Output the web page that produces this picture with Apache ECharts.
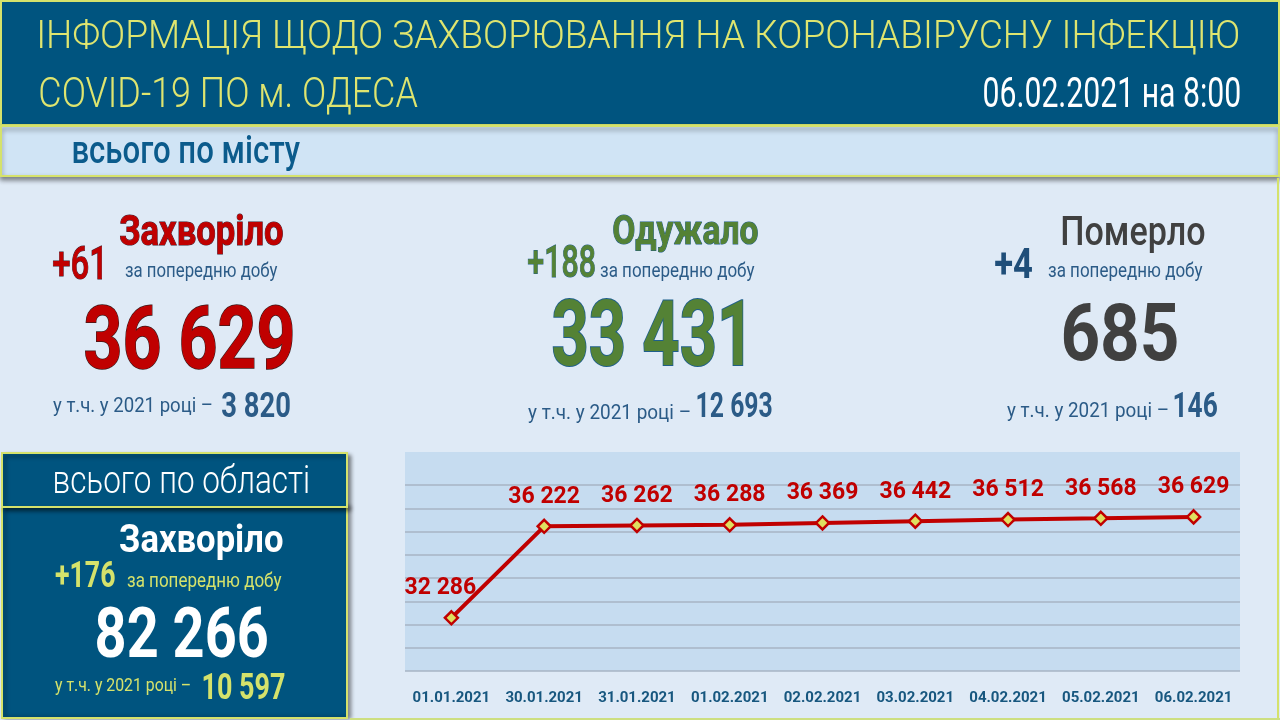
<!DOCTYPE html>
<html><head><meta charset="utf-8">
<script src="https://cdn.jsdelivr.net/npm/echarts/dist/echarts.min.js"></script>
<style>html,body{margin:0;padding:0;background:#dfeaf6}#c{width:1280px;height:720px}</style>
</head><body><div id="c"></div>
<script>
// ---------- data ----------
const categories = ['01.01.2021','30.01.2021','31.01.2021','01.02.2021','02.02.2021','03.02.2021','04.02.2021','05.02.2021','06.02.2021'];
const cases = [32286, 36222, 36262, 36288, 36369, 36442, 36512, 36568, 36629];
const yTicks = [30000, 38000, 1000]; // min, max, interval

const titleLines = ['ІНФОРМАЦІЯ ЩОДО ЗАХВОРЮВАННЯ НА КОРОНАВІРУСНУ ІНФЕКЦІЮ', 'COVID-19 ПО м. ОДЕСА'];
const reportDate = '06.02.2021 на 8:00';
const cityHeading = 'всього по місту';
const regionHeading = 'всього по області';
const statNames = ['Захворіло', 'Одужало', 'Померло'];
const statDaily = ['+61', '+188', '+4'];
const statTotals = ['36 629', '33 431', '685'];
const stat2021 = ['3 820', '12 693', '146'];
const regionName = 'Захворіло';
const regionDaily = '+176';
const regionTotal = '82 266';
const region2021 = '10 597';
const perDay = 'за попередню добу';
const inYear = 'у т.ч. у 2021 році –';

// ---------- helpers ----------
const NARROW = 'Roboto, "DejaVu Sans Condensed", sans-serif';
const THIN = 'Roboto, Lato, sans-serif';
const mctx = document.createElement('canvas').getContext('2d');
function T(str, o) {
  const size = o.size, weight = o.weight || 'normal', fam = o.family || NARROW;
  mctx.font = weight + ' ' + size + 'px ' + fam;
  mctx.textAlign = 'left'; mctx.textBaseline = 'middle';
  const m = mctx.measureText(str);
  const inkW = m.actualBoundingBoxRight + m.actualBoundingBoxLeft;
  const sx = o.right != null ? (o.right - o.left) / inkW : 1;
  let y;
  if (o.base != null) { const h = mctx.measureText('H'); y = o.base - h.actualBoundingBoxDescent; }
  else y = o.top + m.actualBoundingBoxAscent;
  return { type: 'text', x: o.left + m.actualBoundingBoxLeft * sx, y: y, scaleX: sx, z: 50,
    style: { text: str, fontSize: size, fontWeight: weight, fontFamily: fam, fill: o.color,
      stroke: o.stroke || null, lineWidth: o.lw || 0, textAlign: 'left', verticalAlign: 'middle', textVerticalAlign: 'middle',
      shadowBlur: o.blur || 0, shadowColor: o.glow || 'rgba(0,0,0,0)' } };
}
function R(x, y, w, h, fill, extra) {
  return Object.assign({ type: 'rect', shape: { x: x, y: y, width: w, height: h }, z: 5,
    style: Object.assign({ fill: fill }, extra || {}) });
}
function L(x1, y1, x2, y2, color, w) {
  return { type: 'line', z: 30, shape: { x1: x1, y1: y1, x2: x2, y2: y2 }, style: { stroke: color, lineWidth: w } };
}
const fmt = v => String(v).replace(/\B(?=(\d{3})+(?!\d))/g, ' ');

const YG = '#d5e26b', DB = '#00547f', TXT = '#2b5b87', RED = '#c00000', GRN = '#548235', GRY = '#404040';

const g = [];
// page background & header
const bg = R(0, 0, 1280, 720, '#dfeaf6'); bg.z = -20; g.push(bg);
g.push(R(1, 1, 1278, 124, DB, { stroke: YG, lineWidth: 2 }));
g.push(R(1, 126, 1278, 50, '#d0e4f5', { stroke: YG, lineWidth: 2, shadowBlur: 5, shadowOffsetY: 3, shadowColor: 'rgba(0,0,0,0.45)' }));
g.push(T(titleLines[0], { left: 40, right: 1239, base: 48, size: 39, weight: 300, family: THIN, color: '#dfe56f' }));
g.push(T(titleLines[1], { left: 40, right: 418, base: 107, size: 43, weight: 300, family: THIN, color: '#dfe56f' }));
g.push(T(reportDate, { left: 984, right: 1240, base: 107, size: 42, color: '#ffffff' }));
g.push(T(cityHeading, { left: 73, right: 300, base: 163, size: 39, weight: 500, family: THIN, color: '#0b5b8c' }));

// right / bottom frame
g.push(L(1278, 178, 1278, 720, YG, 2));
g.push(L(350, 719, 1280, 719, '#cddf80', 2));

// ----- stat panel 1 -----
g.push(T(statNames[0], { left: 120, right: 283, base: 245, size: 42, weight: 'bold', color: RED, stroke: '#3b2030', lw: 1 }));
g.push(T(statDaily[0], { left: 53, right: 102, base: 279, size: 47, weight: 500, color: RED, stroke: '#3b2030', lw: 1 }));
g.push(T(perDay, { left: 125, right: 278, base: 277, size: 20, color: TXT }));
g.push(T(statTotals[0], { left: 85, right: 292, base: 368, size: 88, weight: 'bold', color: RED, stroke: '#3b1a1a', lw: 1.5, blur: 8, glow: 'rgba(0,0,0,0.35)' }));
g.push(T(inYear, { left: 53, right: 212, base: 412, size: 20, color: TXT }));
g.push(T(stat2021[0], { left: 222, right: 290, base: 417, size: 35, weight: 'bold', color: TXT }));

// ----- stat panel 2 -----
g.push(T(statNames[1], { left: 613, right: 758, base: 244, size: 40, weight: 'bold', color: GRN, stroke: '#1f5b87', lw: 1 }));
g.push(T(statDaily[1], { left: 528, right: 595, base: 277, size: 45, weight: 500, color: GRN, stroke: '#1f5b87', lw: 1 }));
g.push(T(perDay, { left: 600, right: 755, base: 277, size: 20, color: TXT }));
g.push(T(statTotals[1], { left: 553, right: 743, base: 365, size: 90, weight: 'bold', color: GRN, stroke: '#1f5f8b', lw: 2, blur: 8, glow: 'rgba(0,0,0,0.3)' }));
g.push(T(inYear, { left: 528, right: 690, base: 419, size: 20, color: TXT }));
g.push(T(stat2021[1], { left: 697, right: 772, base: 417, size: 35, weight: 'bold', color: TXT }));

// ----- stat panel 3 -----
g.push(T(statNames[2], { left: 1062, right: 1205, base: 245, size: 40, weight: 500, color: GRY }));
g.push(T(statDaily[2], { left: 995, right: 1032, base: 278, size: 42, weight: 'bold', color: '#1f4e79' }));
g.push(T(perDay, { left: 1048, right: 1203, base: 277, size: 20, color: TXT }));
g.push(T(statTotals[2], { left: 1063, right: 1177, base: 360, size: 80, weight: 'bold', color: GRY, blur: 8, glow: 'rgba(0,0,0,0.3)' }));
g.push(T(inYear, { left: 1007, right: 1168, base: 417, size: 20, color: TXT }));
g.push(T(stat2021[2], { left: 1174, right: 1217, base: 417, size: 35, weight: 'bold', color: TXT }));

// ----- region box -----
g.push(R(2, 507, 345, 211, DB, { stroke: YG, lineWidth: 2, shadowBlur: 4, shadowOffsetX: 3, shadowColor: 'rgba(0,0,0,0.4)' }));
const hb = R(2, 453, 345, 54, DB, { stroke: YG, lineWidth: 2, shadowBlur: 4, shadowOffsetX: 3, shadowOffsetY: 3, shadowColor: 'rgba(0,0,0,0.45)' });
hb.z = 6; g.push(hb);
g.push(T(regionHeading, { left: 55, right: 308, base: 493, size: 38, weight: 300, family: THIN, color: '#ffffff' }));
g.push(T(regionName, { left: 120, right: 283, base: 552, size: 38, weight: 'bold', color: '#ffffff' }));
g.push(T(regionDaily, { left: 55, right: 115, base: 587, size: 36, weight: 'bold', color: YG }));
g.push(T(perDay, { left: 127, right: 282, base: 587, size: 20, color: YG }));
g.push(T(regionTotal, { left: 97, right: 267, base: 657, size: 70, weight: 'bold', color: '#ffffff', blur: 6, glow: 'rgba(230,240,100,0.8)' }));
g.push(T(inYear, { left: 55, right: 190, base: 691, size: 19, color: YG }));
g.push(T(region2021, { left: 203, right: 285, base: 699, size: 36, weight: 'bold', color: YG }));

// plot background
const pb = R(405, 452, 835, 219, '#c6dcf0'); pb.z = -10; g.push(pb);

const chart = echarts.init(document.getElementById('c'), null, { renderer: 'canvas' });
chart.setOption({
  animation: false,
  backgroundColor: 'transparent',
  graphic: { elements: g },
  grid: { left: 405, right: 40, top: 485, bottom: 49, containLabel: false, outerBoundsMode: 'none' },
  xAxis: {
    type: 'category', data: categories, boundaryGap: true,
    axisLine: { show: false }, axisTick: { show: false }, splitLine: { show: false },
    axisLabel: { color: '#17577f', fontFamily: 'Roboto', fontWeight: 'bold', fontSize: 15, margin: 20, interval: 0 }
  },
  yAxis: {
    type: 'value', min: yTicks[0], max: yTicks[1], interval: yTicks[2],
    axisLine: { show: false }, axisTick: { show: false }, axisLabel: { show: false },
    splitLine: { show: true, lineStyle: { color: '#a7b5c4', width: 1.5 } }
  },
  series: [{
    type: 'line', z: 20,
    data: cases.map((v, i) => i === 0 ? { value: v, label: { offset: [-11, 0] } } : v),
    symbol: 'diamond', symbolSize: 13,
    itemStyle: { color: '#dfe060', borderColor: RED, borderWidth: 2.5 },
    lineStyle: { color: RED, width: 4 },
    label: { show: true, position: 'top', distance: 10, color: RED, fontFamily: 'Roboto', fontWeight: 'bold', fontSize: 23,
      formatter: p => fmt(p.value) }
  }]
});
</script></body></html>
